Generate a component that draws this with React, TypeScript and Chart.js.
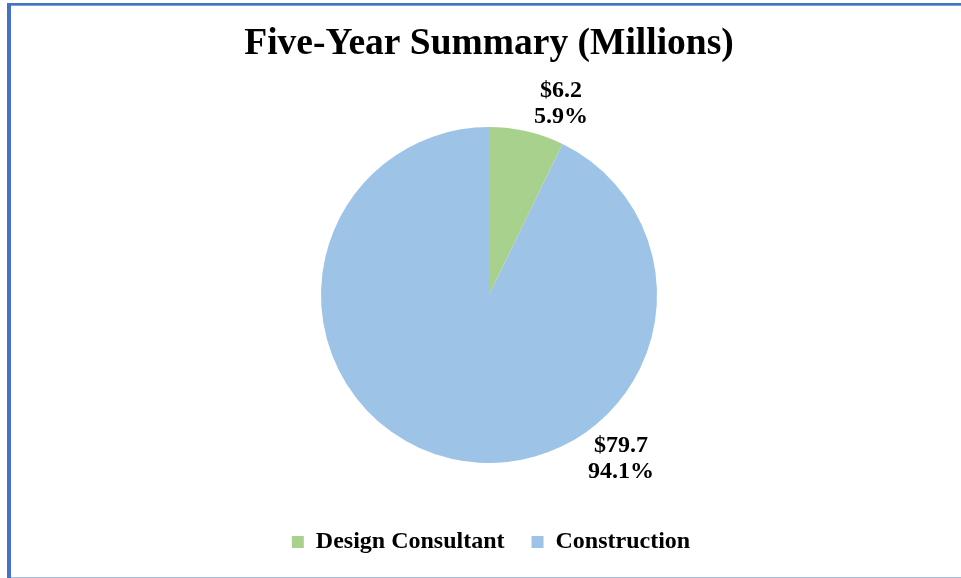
import React, { useEffect, useRef } from "react";
import { Chart, registerables } from "chart.js";

Chart.register(...registerables);

const categories = ["Design Consultant", "Construction"];
const amounts = [6.2, 79.7];
const amountLabels = ["$6.2", "$79.7"];
const percentLabels = ["5.9%", "94.1%"];
const colors = ["#A9D18E", "#9DC3E6"];
const titleText = "Five-Year Summary (Millions)";

const FONT = "'Liberation Serif', 'Times New Roman', Times, serif";

// label placement: angle in degrees clockwise from 12 o'clock, and distance as factor of the radius
const labelPlacement = [
  { angle: 20.6, dist: 1.218 },
  { angle: 141.2, dist: 1.253 },
];

const labelPlugin = {
  id: "sliceLabels",
  afterLayout(chart: any) {
    // nudge the legend slightly to the right, like the original
    if (chart.legend) {
      chart.legend.left += 2;
      chart.legend.right += 2;
    }
  },
  afterDatasetsDraw(chart: any) {
    const ctx = chart.ctx;
    const meta = chart.getDatasetMeta(0);
    ctx.save();
    ctx.font = `bold 24px ${FONT}`;
    ctx.fillStyle = "#000";
    ctx.textAlign = "center";
    ctx.textBaseline = "middle";
    meta.data.forEach((arc: any, i: number) => {
      const p = labelPlacement[i];
      const a = (p.angle * Math.PI) / 180;
      const r = arc.outerRadius * p.dist;
      const cx = arc.x + Math.sin(a) * r;
      const cy = arc.y - Math.cos(a) * r;
      ctx.fillText(amountLabels[i], cx, cy - 13);
      ctx.fillText(percentLabels[i], cx, cy + 13);
    });
    ctx.restore();
  },
};

export default function App() {
  const ref = useRef<HTMLCanvasElement | null>(null);

  useEffect(() => {
    if (!ref.current) return;
    const chart = new Chart(ref.current, {
      type: "pie",
      data: {
        labels: categories,
        datasets: [
          {
            data: amounts,
            backgroundColor: colors,
            borderWidth: 0,
            radius: 168,
          },
        ],
      },
      options: {
        responsive: false,
        animation: false,
        layout: { padding: { left: 17, right: 0, top: 0, bottom: 14 } },
        plugins: {
          title: {
            display: true,
            text: titleText,
            color: "#000",
            font: { family: FONT, size: 37.5, weight: "bold", lineHeight: 1.2 },
            padding: { top: 22, bottom: 20 },
          },
          legend: {
            position: "bottom",
            labels: {
              color: "#000",
              font: { family: FONT, size: 24, weight: "bold" },
              boxWidth: 12,
              boxHeight: 12,
              padding: 27,
            },
          },
          tooltip: { enabled: false },
        },
      },
      plugins: [labelPlugin],
    });
    return () => chart.destroy();
  }, []);

  return (
    <div style={{ position: "fixed", left: 0, top: 0, width: 961, height: 578, background: "#fff" }}>
      <canvas ref={ref} width={961} height={578} style={{ position: "absolute", left: 0, top: 0 }} />
      <div style={{ position: "absolute", left: 7, top: 3, width: 954, height: 2, background: "#4472C4" }} />
      <div style={{ position: "absolute", left: 7, top: 5, width: 954, height: 1, background: "#7E9FDC" }} />
      <div style={{ position: "absolute", left: 7, top: 3, width: 4, height: 575, background: "#4472C4" }} />
      <div style={{ position: "absolute", left: 11, top: 577, width: 950, height: 1, background: "#A8BCE2" }} />
    </div>
  );
}
